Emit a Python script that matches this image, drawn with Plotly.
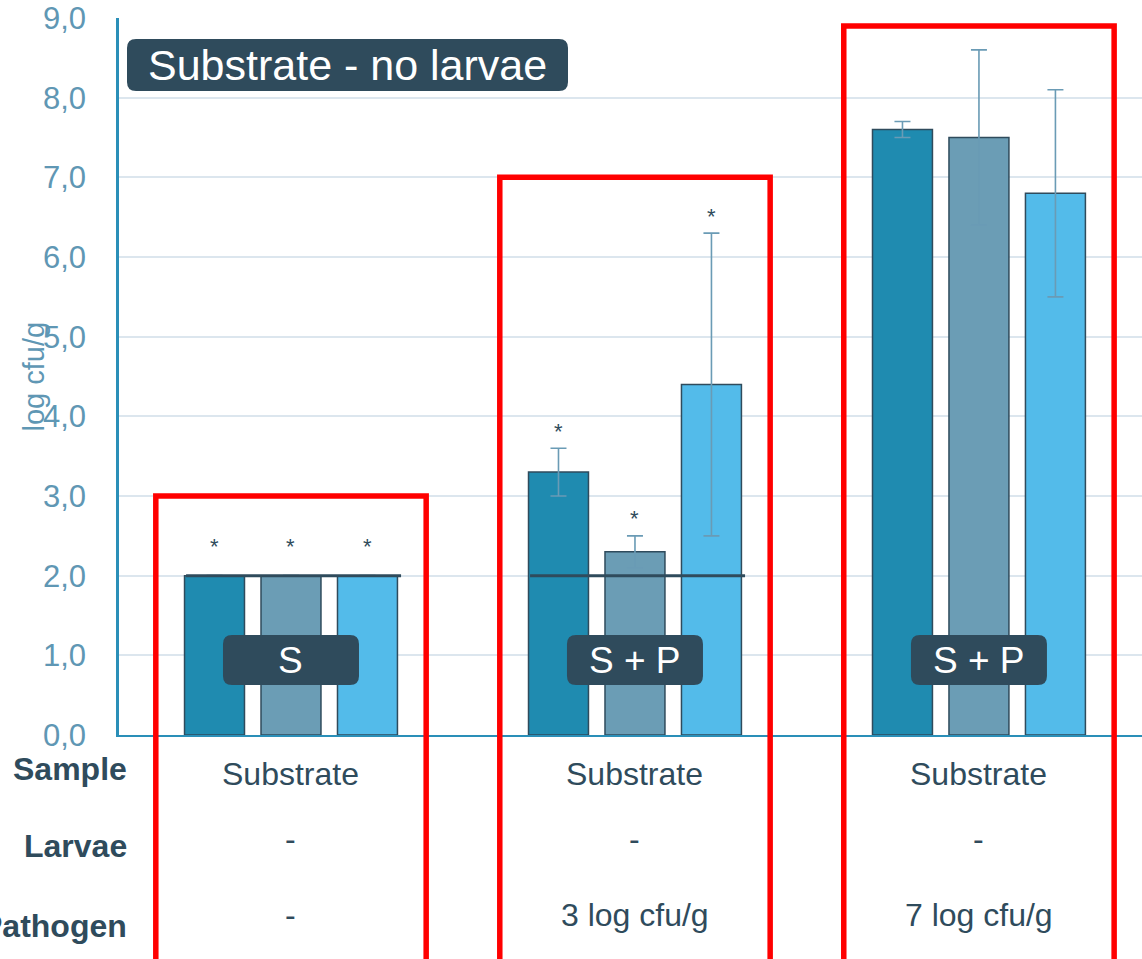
import plotly.graph_objects as go

# ---- data -------------------------------------------------------------
group_pos = [0, 1, 2]
sample_row = ["Substrate", "Substrate", "Substrate"]
larvae_row = ["-", "-", "-"]
pathogen_row = ["-", "3 log cfu/g", "7 log cfu/g"]
row_titles = ["Sample", "Larvae", "Pathogen"]
group_tags = ["S", "S + P", "S + P"]
panel_title = "Substrate - no larvae"

rep1 = [2.0, 3.3, 7.6]
rep2 = [2.0, 2.3, 7.5]
rep3 = [2.0, 4.4, 6.8]
rep1_err = [None, 0.3, 0.1]
rep2_err = [None, 0.2, 1.1]
rep3_err = [None, 1.9, 1.3]
rep1_star = [True, True, False]
rep2_star = [True, True, False]
rep3_star = [True, True, False]

detection_limit = 2.0
limit_groups = [0, 1]
highlight_tops = [3.0, 7.0, 8.9]
y_ticks = [0, 1, 2, 3, 4, 5, 6, 7, 8, 9]

# ---- style ------------------------------------------------------------
FONT = "Arial, Liberation Sans, sans-serif"
DARK = "#2f4b5c"
TICK_COL = "#5f97b4"
AXIS_COL = "#2a8fb8"
GRID_COL = "#dce6ee"
ERR_COL = "#6a9bb5"
BAR_COLS = ["#1f8bb0", "#6b9db5", "#53bbea"]

W, H = 1142, 959
ML, MR, MT, MB = 119, 0, 18, 224
X_RANGE = [-0.5, 2.474]
Y_RANGE = [0, 9]
plot_w = W - ML - MR
plot_h = H - MT - MB
px_x = plot_w / (X_RANGE[1] - X_RANGE[0])   # pixels per category
px_y = plot_h / (Y_RANGE[1] - Y_RANGE[0])   # pixels per log unit

BARGAP = 0.333
SLOT = (1 - BARGAP) / 3

fig = go.Figure()

series = [
    ("Replicate 1", rep1, rep1_err, rep1_star),
    ("Replicate 2", rep2, rep2_err, rep2_star),
    ("Replicate 3", rep3, rep3_err, rep3_star),
]
for k, (name, vals, errs, _) in enumerate(series):
    fig.add_trace(go.Bar(
        x=group_pos, y=vals, name=name,
        marker=dict(color=BAR_COLS[k], line=dict(color=DARK, width=1.5)),
        error_y=dict(type="data", array=errs, arrayminus=errs, visible=True,
                     color=ERR_COL, thickness=1.6, width=8),
        showlegend=False,
    ))

shapes = []
annotations = []


def rounded_box(xc, yc, w_px, h_px, r_px=9):
    hw = w_px / 2 / px_x
    hh = h_px / 2 / px_y
    rx = r_px / px_x
    ry = r_px / px_y
    x0, x1, y0, y1 = xc - hw, xc + hw, yc - hh, yc + hh
    path = (f"M {x0+rx},{y0} L {x1-rx},{y0} Q {x1},{y0} {x1},{y0+ry} "
            f"L {x1},{y1-ry} Q {x1},{y1} {x1-rx},{y1} L {x0+rx},{y1} "
            f"Q {x0},{y1} {x0},{y1-ry} L {x0},{y0+ry} Q {x0},{y0} {x0+rx},{y0} Z")
    return dict(type="path", path=path, xref="x", yref="y",
                fillcolor=DARK, line=dict(width=0), layer="above")


# detection-limit lines
for g in limit_groups:
    shapes.append(dict(type="line", xref="x", yref="y",
                       x0=group_pos[g] - 0.305, x1=group_pos[g] + 0.32,
                       y0=detection_limit, y1=detection_limit,
                       line=dict(color=DARK, width=3), layer="above"))

# group tag boxes
for g, tag in zip(group_pos, group_tags):
    shapes.append(rounded_box(g, 0.94, 136, 50))
    annotations.append(dict(x=g, y=0.94, xref="x", yref="y", text=tag,
                            showarrow=False, font=dict(family=FONT, size=37, color="white"),
                            xanchor="center", yanchor="middle"))

# panel title box
tx = -0.5 + (347.5 - ML) / px_x
ty = (H - MB - 65) / px_y
shapes.append(rounded_box(tx, ty, 441, 52))
annotations.append(dict(x=tx, y=ty, xref="x", yref="y", text=panel_title,
                        showarrow=False, font=dict(family=FONT, size=43, color="white"),
                        xanchor="center", yanchor="middle"))

# significance marks
for k, (_, vals, errs, stars) in enumerate(series):
    for g in group_pos:
        if not stars[g]:
            continue
        top = vals[g] + (errs[g] or 0)
        annotations.append(dict(x=g + (k - 1) * SLOT, y=top, xref="x", yref="y",
                                text="*", showarrow=False,
                                font=dict(family=FONT, size=22, color=DARK),
                                xanchor="center", yanchor="middle",
                                yshift=17 if errs[g] else 29))


# highlight frames (extend below the plot area)
def paper_x(xd):
    return (xd - X_RANGE[0]) / (X_RANGE[1] - X_RANGE[0])


for g, top in zip(group_pos, highlight_tops):
    shapes.append(dict(type="rect", xref="paper", yref="paper",
                       x0=paper_x(g - 0.393), x1=paper_x(g + 0.393),
                       y0=-0.45, y1=top / Y_RANGE[1],
                       line=dict(color="#ff0000", width=5.5), fillcolor="rgba(0,0,0,0)",
                       layer="above"))

# table under the axis
row_label_shift = [-34, -111, -191]
row_value_shift = [-39, -104, -180]
rows = [sample_row, larvae_row, pathogen_row]
for title, ls in zip(row_titles, row_label_shift):
    annotations.append(dict(x=(129 - ML) / plot_w, y=0, xref="paper", yref="paper",
                            text=f"<b>{title}</b>", showarrow=False,
                            font=dict(family=FONT, size=32, color=DARK),
                            xanchor="right", yanchor="middle", yshift=ls))
for row, vs in zip(rows, row_value_shift):
    for g, txt in zip(group_pos, row):
        annotations.append(dict(x=g, y=0, xref="x", yref="paper", text=txt,
                                showarrow=False, font=dict(family=FONT, size=32, color=DARK),
                                xanchor="center", yanchor="middle", yshift=vs))

# y-axis title
annotations.append(dict(x=(33 - ML) / plot_w, y=0.5, xref="paper", yref="paper",
                        text="log cfu/g", textangle=-90, showarrow=False,
                        font=dict(family=FONT, size=29, color=TICK_COL),
                        xanchor="center", yanchor="middle"))

fig.update_layout(
    width=W, height=H,
    margin=dict(l=ML, r=MR, t=MT, b=MB, pad=0),
    paper_bgcolor="white", plot_bgcolor="white",
    barmode="group", bargap=BARGAP, bargroupgap=0.216,
    separators=",.",
    shapes=shapes, annotations=annotations,
    font=dict(family=FONT, color=DARK),
    xaxis=dict(range=X_RANGE, showticklabels=False, showgrid=False, zeroline=False,
               showline=True, linecolor=AXIS_COL, linewidth=2, ticks=""),
    yaxis=dict(range=Y_RANGE, tickvals=y_ticks, tickformat=".1f",
               showgrid=True, gridcolor=GRID_COL, gridwidth=1.5, zeroline=False,
               showline=True, linecolor=AXIS_COL, linewidth=2.5, ticks="",
               ticklabelstandoff=24,
               tickfont=dict(family=FONT, size=31, color=TICK_COL)),
)

fig.write_html("out.html")
